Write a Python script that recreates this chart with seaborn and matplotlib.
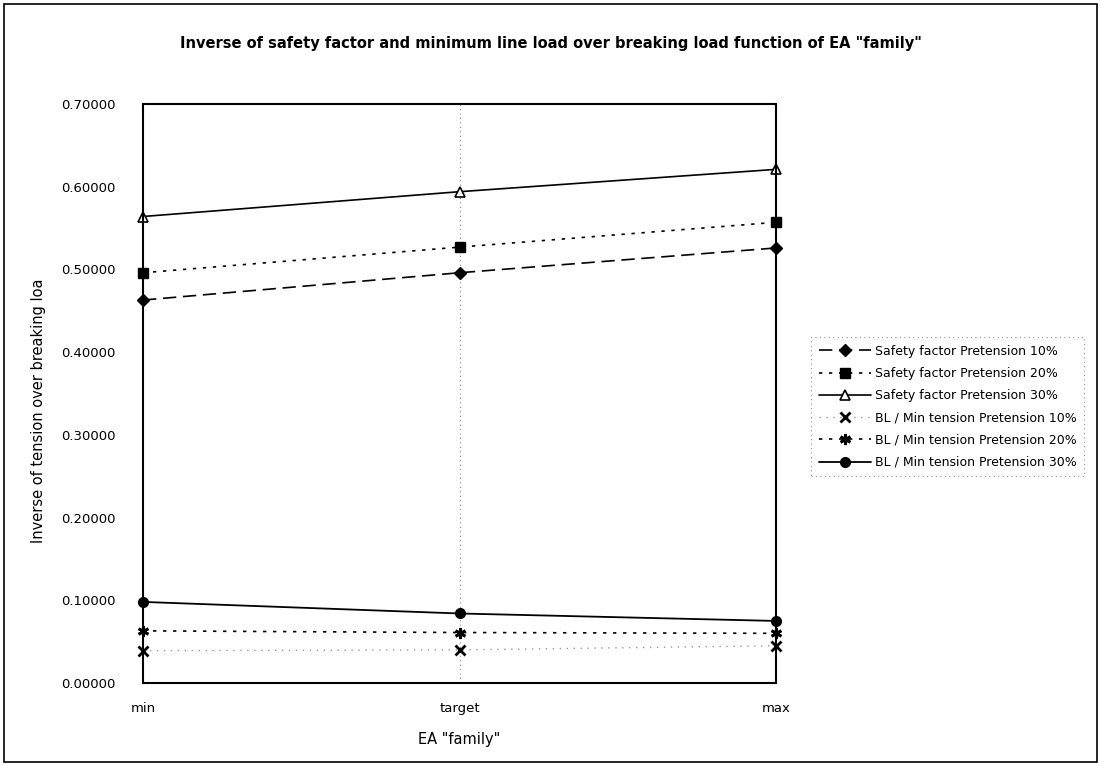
import matplotlib
matplotlib.use("Agg")
import matplotlib.pyplot as plt
from matplotlib.patches import Rectangle
import seaborn as sns
import pandas as pd

sns.set_theme(style="white")
plt.rcParams["font.family"] = ["DejaVu Sans"]
plt.rcParams.update({"text.color": "black", "axes.labelcolor": "black",
                     "xtick.color": "black", "ytick.color": "black"})

categories = ["min", "target", "max"]
sf_10 = [0.463, 0.496, 0.526]
sf_20 = [0.496, 0.527, 0.557]
sf_30 = [0.564, 0.594, 0.621]
bl_10 = [0.039, 0.040, 0.045]
bl_20 = [0.063, 0.061, 0.060]
bl_30 = [0.098, 0.084, 0.075]
y_ticks = [0.0, 0.1, 0.2, 0.3, 0.4, 0.5, 0.6, 0.7]

series = [
    ("Safety factor Pretension 10%", sf_10, dict(marker="D", markersize=6, linestyle=(0, (8, 4)), color="black", mfc="black", mec="black", mew=1, lw=1.2)),
    ("Safety factor Pretension 20%", sf_20, dict(marker="s", markersize=7, linestyle=(0, (2, 4)), color="black", mfc="black", mec="black", mew=1, lw=1.2)),
    ("Safety factor Pretension 30%", sf_30, dict(marker="^", markersize=6.5, linestyle="-", color="black", mfc="white", mec="black", mew=1.2, lw=1.2)),
    ("BL / Min tension Pretension 10%", bl_10, dict(marker="x", markersize=7, mew=2, linestyle=(0, (1, 4)), color="#9a9a9a", mec="black", lw=1.0)),
    ("BL / Min tension Pretension 20%", bl_20, dict(marker=(6, 2, 0), markersize=8, mew=2, linestyle=(0, (2, 4)), color="black", mec="black", lw=1.2)),
    ("BL / Min tension Pretension 30%", bl_30, dict(marker="o", markersize=7, linestyle="-", color="black", mfc="black", mec="black", mew=1, lw=1.3)),
]

fig = plt.figure(figsize=(11.02, 7.66), dpi=100)
ax = fig.add_axes([0.1298, 0.1084, 0.5744, 0.7558])

for name, values, style in series:
    df = pd.DataFrame({"EA": categories, "value": values})
    sns.lineplot(data=df, x="EA", y="value", ax=ax, label=name, sort=False, clip_on=False, **style)

ax.set_xlim(0, 2)
ax.set_ylim(0, 0.7)
ax.set_yticks(y_ticks)
ax.set_yticklabels([f"{v:.5f}" for v in y_ticks], fontsize=9.5)
ax.set_xticks([0, 1, 2])
ax.set_xticklabels(categories, fontsize=9.5)
ax.tick_params(axis="x", pad=14, length=0)
ax.tick_params(axis="y", pad=20, length=0)
ax.axvline(1, color="#888888", lw=0.8, linestyle=(0, (1, 3)), zorder=0)
for sp in ax.spines.values():
    sp.set_color("black")
    sp.set_linewidth(1.5)

ax.set_xlabel('EA "family"', fontsize=10.5, labelpad=12)
ax.set_ylabel("Inverse of tension over breaking loa", fontsize=10.5)
ax.yaxis.set_label_coords(-0.153, 0.47)
fig.text(0.5, 0.943, 'Inverse of safety factor and minimum line load over breaking load function of EA "family"',
         ha="center", va="center", fontsize=10.5, fontweight="bold")

leg = ax.legend(loc="upper left", bbox_to_anchor=(0.7305, 0.568), bbox_transform=fig.transFigure,
                fontsize=9, frameon=True, handlelength=4.2, labelspacing=0.74,
                borderpad=0.6, handletextpad=0.3, fancybox=False)
leg.get_frame().set_edgecolor("#777777")
leg.get_frame().set_linestyle((0, (1, 3)))
leg.get_frame().set_linewidth(0.8)

fig.patches.append(Rectangle((4 / 1102, 4 / 766), 1093 / 1102, 758 / 766, transform=fig.transFigure,
                             fill=False, edgecolor="black", lw=1.2))

fig.savefig("out.png", dpi=100)
